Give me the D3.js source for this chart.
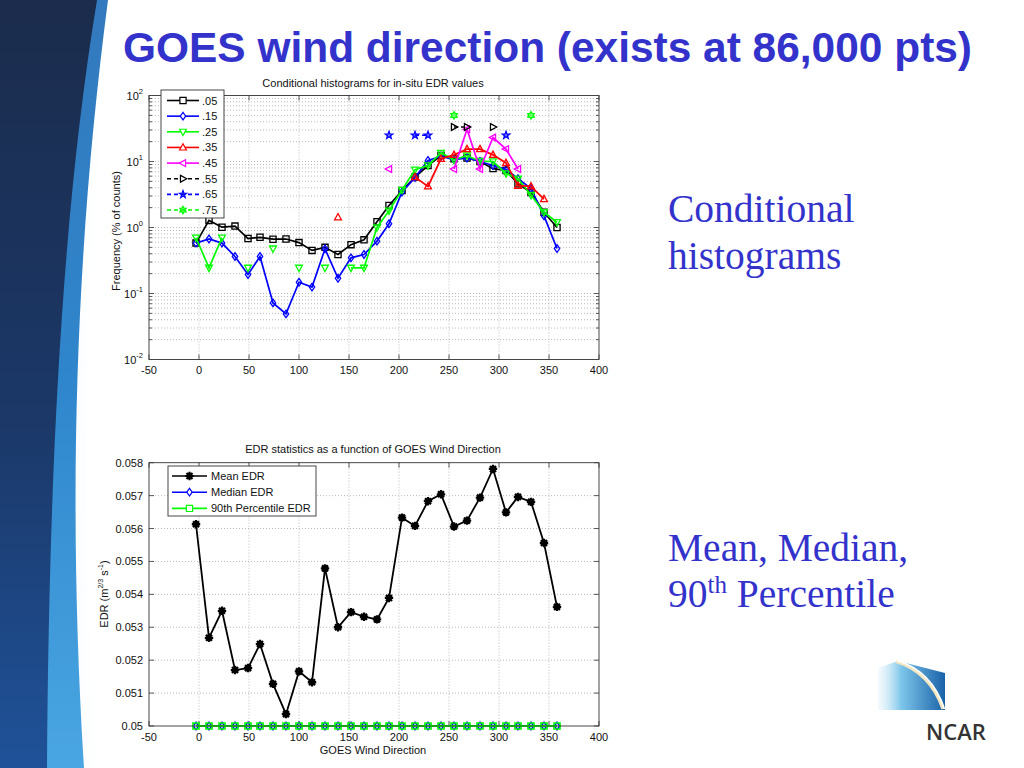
<!DOCTYPE html>
<html><head><meta charset="utf-8">
<script src="https://cdn.jsdelivr.net/npm/d3@7"></script>
<style>body{margin:0;background:#fff}svg{display:block}</style>
</head><body>
<svg id="c" width="1024" height="768"></svg>
<script>
// ---------------- DATA ----------------
const directions = [-3,10,23,36,49,61,74,87,100,113,126,139,152,165,178,190,203,216,229,242,255,268,281,294,307,319,332,345,358];
const edrLevels = [".05",".15",".25",".35",".45",".55",".65",".75"];
const n = null;
const hist05 = [0.58,1.28,1.01,1.05,0.68,0.71,0.665,0.67,0.59,0.45,0.50,0.39,0.55,0.65,1.22,2.15,3.64,5.8,8.7,12.3,11,11.3,10,7.8,7.3,4.6,3.4,1.7,1.0];
const hist15 = [0.58,0.67,0.58,0.364,0.194,0.364,0.072,0.049,0.148,0.125,0.475,0.17,0.347,0.39,0.62,1.14,3.45,5.7,10.4,12,10.7,11.3,10,8.7,7.6,5.5,3.9,1.5,0.48];
const hist25 = [0.70,0.245,0.70,n,0.245,n,0.48,n,0.245,n,0.245,n,0.245,0.245,1.0,1.8,3.7,7.5,8.7,13.5,10.6,12.3,10.1,10,6.6,5.5,3.1,1.7,1.2];
const hist35 = [n,n,n,n,n,n,n,n,n,n,n,1.43,n,n,n,n,n,5.8,4.2,11,12.6,15.4,15.4,12.6,9.5,4.3,4.2,2.7,n];
const hist45 = [n,n,n,n,n,n,n,n,n,n,n,n,n,n,n,7.7,n,n,n,n,7.7,30.8,7.7,23.1,15.4,7.7,n,n,n];
const hist55 = [n,n,n,n,n,n,n,n,n,n,n,n,n,n,n,n,n,n,n,n,33.3,33.3,n,33.3,n,n,n,n,n];
const hist65 = [n,n,n,n,n,n,n,n,n,n,n,n,n,n,n,25,n,25,25,n,n,n,n,n,25,n,n,n,n];
const hist75 = [n,n,n,n,n,n,n,n,n,n,n,n,n,n,n,n,n,n,n,n,50,n,n,n,n,n,50,n,n];

const meanEDR = [0.05613,0.05268,0.0535,0.0517,0.05176,0.05249,0.05128,0.05036,0.05166,0.05133,0.05479,0.0530,0.05346,0.05332,0.05324,0.05389,0.05633,0.05608,0.05683,0.05704,0.05606,0.05624,0.05694,0.05781,0.05649,0.05696,0.05681,0.05556,0.05362];
const medianEDR = [0.05,0.05,0.05,0.05,0.05,0.05,0.05,0.05,0.05,0.05,0.05,0.05,0.05,0.05,0.05,0.05,0.05,0.05,0.05,0.05,0.05,0.05,0.05,0.05,0.05,0.05,0.05,0.05,0.05];
const p90EDR = [0.05,0.05,0.05,0.05,0.05,0.05,0.05,0.05,0.05,0.05,0.05,0.05,0.05,0.05,0.05,0.05,0.05,0.05,0.05,0.05,0.05,0.05,0.05,0.05,0.05,0.05,0.05,0.05,0.05];
const statNames = ["Mean EDR","Median EDR","90th Percentile EDR"];

const xTicks = [-50,0,50,100,150,200,250,300,350,400];
const logTickExps = [2,1,0,-1,-2];
const edrTicks = [0.05,0.051,0.052,0.053,0.054,0.055,0.056,0.057,0.058];
const edrTickLabels = ["0.05","0.051","0.052","0.053","0.054","0.055","0.056","0.057","0.058"];

// ---------------- STYLE ----------------
const histSeries = [
  {name:edrLevels[0], vals:hist05, color:"#000000", dash:null, m:"s"},
  {name:edrLevels[1], vals:hist15, color:"#0000ff", dash:null, m:"d"},
  {name:edrLevels[2], vals:hist25, color:"#00ff00", dash:null, m:"v"},
  {name:edrLevels[3], vals:hist35, color:"#ff0000", dash:null, m:"^"},
  {name:edrLevels[4], vals:hist45, color:"#ff00ff", dash:null, m:"<"},
  {name:edrLevels[5], vals:hist55, color:"#000000", dash:"4,3", m:">"},
  {name:edrLevels[6], vals:hist65, color:"#0000ff", dash:"4,3", m:"p"},
  {name:edrLevels[7], vals:hist75, color:"#00ff00", dash:"4,3", m:"h"}
];
const FONT = "'Liberation Sans', Arial, Helvetica, sans-serif";

function star(np, R, r){
  let p = [];
  for (let k=0;k<np*2;k++){
    const a = -Math.PI/2 + k*Math.PI/np;
    const rr = k%2===0?R:r;
    p.push([rr*Math.cos(a), rr*Math.sin(a)]);
  }
  return "M"+p.map(q=>q[0].toFixed(2)+","+q[1].toFixed(2)).join("L")+"Z";
}
function markerPath(t){
  const s = 3.4;
  switch(t){
    case "s": return `M-3.1,-3.1H3.1V3.1H-3.1Z`;
    case "d": return `M0,-3.8L2.7,0L0,3.8L-2.7,0Z`;
    case "v": return `M${-s},${-s*0.75}L${s},${-s*0.75}L0,${s*1.1}Z`;
    case "^": return `M${-s},${s*0.75}L${s},${s*0.75}L0,${-s*1.1}Z`;
    case "<": return `M${s*0.75},${-s}L${s*0.75},${s}L${-s*1.1},0Z`;
    case ">": return `M${-s*0.75},${-s}L${-s*0.75},${s}L${s*1.1},0Z`;
    case "p": return star(5, 3.9, 1.6);
    case "h": return star(6, 3.7, 2.2);
    case "*": return "M-4.2,0H4.2M0,-4.2V4.2M-3,-3L3,3M-3,3L3,-3";
  }
}

const svg = d3.select("#c");
const defs = svg.append("defs");

// ---------------- BACKGROUND DECOR ----------------
const gn = defs.append("linearGradient").attr("id","navy").attr("x1",0).attr("y1",0).attr("x2",0).attr("y2",1);
gn.append("stop").attr("offset",0).attr("stop-color","#1b2c4c");
gn.append("stop").attr("offset",0.55).attr("stop-color","#1b3868");
gn.append("stop").attr("offset",1).attr("stop-color","#1f5299");
const gs = defs.append("linearGradient").attr("id","stripe").attr("x1",0).attr("y1",0).attr("x2",0).attr("y2",1);
gs.append("stop").attr("offset",0).attr("stop-color","#3379bd");
gs.append("stop").attr("offset",0.5).attr("stop-color","#2f86cc");
gs.append("stop").attr("offset",1).attr("stop-color","#4aa6e2");
const gw = defs.append("linearGradient").attr("id","glow").attr("x1",0).attr("y1",0).attr("x2",1).attr("y2",0);
gw.append("stop").attr("offset",0).attr("stop-color","#cfe6f6");
gw.append("stop").attr("offset",1).attr("stop-color","#ffffff").attr("stop-opacity",0);

svg.append("path").attr("d","M0,0 L116,0 C86,240 76,500 98,768 L0,768 Z").attr("fill","url(#glow)").attr("opacity",0.7);
svg.append("path").attr("d","M0,0 L108,0 C78,230 66,480 84,768 L0,768 Z").attr("fill","url(#stripe)");
svg.append("path").attr("d","M0,0 L97,0 C64,200 49,450 47,768 L0,768 Z").attr("fill","url(#navy)");

// ---------------- TITLES / TEXT ----------------
svg.append("text").attr("x",123).attr("y",62).attr("font-family",FONT).attr("font-weight","bold")
  .attr("font-size",42).attr("fill","#3333cc").attr("textLength",849).attr("lengthAdjust","spacingAndGlyphs")
  .text("GOES wind direction (exists at 86,000 pts)");

const SERIF = "'Liberation Serif','Times New Roman',serif";
svg.append("text").attr("x",668).attr("y",222).attr("font-family",SERIF).attr("font-size",39.5).attr("fill","#3333cc").text("Conditional");
svg.append("text").attr("x",668).attr("y",269).attr("font-family",SERIF).attr("font-size",39.5).attr("fill","#3333cc").text("histograms");
svg.append("text").attr("x",668).attr("y",561).attr("font-family",SERIF).attr("font-size",39.5).attr("fill","#3333cc").text("Mean, Median,");
const pt = svg.append("text").attr("x",668).attr("y",607).attr("font-family",SERIF).attr("font-size",39.5).attr("fill","#3333cc");
pt.append("tspan").text("90");
pt.append("tspan").attr("dy",-14).attr("font-size",25).text("th");
pt.append("tspan").attr("dy",14).text(" Percentile");

// ---------------- NCAR LOGO ----------------
const gl = defs.append("linearGradient").attr("id","logo").attr("x1",0).attr("y1",0).attr("x2",1).attr("y2",0);
gl.append("stop").attr("offset",0).attr("stop-color","#bfe3f5").attr("stop-opacity",0.15);
gl.append("stop").attr("offset",0.35).attr("stop-color","#7cc5ea");
gl.append("stop").attr("offset",1).attr("stop-color","#1a62a8");
svg.append("path").attr("d","M878,668 L898,661 L945,673 L945,710 L878,710 Z").attr("fill","url(#logo)");
svg.append("path").attr("d","M896,661.5 Q930,672 943,709").attr("fill","none").attr("stroke","#f3e6c0").attr("stroke-width",3.2);
svg.append("path").attr("d","M897,660.5 Q932,671 944.5,709").attr("fill","none").attr("stroke","#ffffff").attr("stroke-width",1.6);
svg.append("text").attr("x",926).attr("y",740).attr("font-family","'Open Sans', "+FONT).attr("font-weight","600")
  .attr("font-size",22).attr("fill","#333333").text("NCAR");

// ---------------- COMMON AXES HELPERS ----------------
function frame(g, x0, y0, x1, y1){
  g.append("rect").attr("x",x0).attr("y",y0).attr("width",x1-x0).attr("height",y1-y0)
    .attr("fill","none").attr("stroke","#333").attr("stroke-width",0.9);
}
function gridLine(g, x1,y1,x2,y2){
  g.append("line").attr("x1",x1).attr("y1",y1).attr("x2",x2).attr("y2",y2)
   .attr("stroke","#a8a8a8").attr("stroke-width",0.8).attr("stroke-dasharray","1,2");
}
function tick(g,x1,y1,x2,y2){
  g.append("line").attr("x1",x1).attr("y1",y1).attr("x2",x2).attr("y2",y2).attr("stroke","#333").attr("stroke-width",0.8);
}

// ---------------- TOP CHART ----------------
const X0 = 149, X1 = 599;
const x = d3.scaleLinear().domain([-50,400]).range([X0,X1]);
const yT = d3.scaleLog().domain([0.01,100]).range([359.5,95.5]);
const topG = svg.append("g");
topG.append("rect").attr("x",X0).attr("y",95.5).attr("width",X1-X0).attr("height",264).attr("fill","#fff");

xTicks.slice(1,-1).forEach(t=>gridLine(topG, x(t),95.5,x(t),359.5));
for (let e=-2;e<2;e++){
  for (let m=1;m<10;m++){
    const v = m*Math.pow(10,e);
    if (e===-2 && m===1) continue;
    gridLine(topG, X0, yT(v), X1, yT(v));
    const L = m===1?5:3;
    tick(topG, X0, yT(v), X0+L, yT(v));
    tick(topG, X1, yT(v), X1-L, yT(v));
  }
}
xTicks.forEach(t=>{ tick(topG,x(t),359.5,x(t),354.5); tick(topG,x(t),95.5,x(t),100.5); });

xTicks.forEach(t=>{
  topG.append("text").attr("x",x(t)).attr("y",374).attr("text-anchor","middle")
    .attr("font-family",FONT).attr("font-size",11).attr("fill","#111").text(t);
});
logTickExps.forEach(e=>{
  const tx = topG.append("text").attr("x",143).attr("y",yT(Math.pow(10,e))+4).attr("text-anchor","end")
    .attr("font-family",FONT).attr("font-size",11).attr("fill","#111");
  tx.append("tspan").text("10");
  tx.append("tspan").attr("dy",-6).attr("font-size",7.5).text(e);
});
topG.append("text").attr("x",373).attr("y",87).attr("text-anchor","middle").attr("font-family",FONT)
  .attr("font-size",11).attr("fill","#111").text("Conditional histograms for in-situ EDR values");
topG.append("text").attr("transform","translate(120,231) rotate(-90)").attr("text-anchor","middle")
  .attr("font-family",FONT).attr("font-size",11).attr("fill","#111").text("Frequency (% of counts)");

const topPlot = topG.append("g");
histSeries.forEach(s=>{
  const pts = directions.map((d,i)=>({x:d, v:s.vals[i]}));
  const line = d3.line().defined(p=>p.v!=null).x(p=>x(p.x)).y(p=>yT(p.v));
  topPlot.append("path").attr("d",line(pts)).attr("fill","none").attr("stroke",s.color)
    .attr("stroke-width",1.7).attr("stroke-dasharray",s.dash);
  topPlot.selectAll(null).data(pts.filter(p=>p.v!=null)).enter().append("path")
    .attr("transform",p=>`translate(${x(p.x)},${yT(p.v)})`)
    .attr("d",markerPath(s.m)).attr("fill",(s.m==="p"||s.m==="h")?s.color:"none")
    .attr("fill-opacity",(s.m==="p"||s.m==="h")?0.55:0)
    .attr("stroke",s.color).attr("stroke-width",1.3);
});
frame(topG, X0, 95.5, X1, 359.5);

const lg = topG.append("g");
lg.append("rect").attr("x",161).attr("y",90).attr("width",63).attr("height",128).attr("fill","#fff")
  .attr("stroke","#333").attr("stroke-width",0.9);
histSeries.forEach((s,i)=>{
  const yy = 100.5 + i*15.65;
  lg.append("line").attr("x1",167).attr("x2",199).attr("y1",yy).attr("y2",yy).attr("stroke",s.color)
    .attr("stroke-width",1.6).attr("stroke-dasharray",s.dash);
  lg.append("path").attr("transform",`translate(183,${yy})`).attr("d",markerPath(s.m))
    .attr("fill",(s.m==="p"||s.m==="h")?s.color:"#fff").attr("fill-opacity",(s.m==="p"||s.m==="h")?0.55:1)
    .attr("stroke",s.color).attr("stroke-width",1.2);
  lg.append("text").attr("x",202).attr("y",yy+4).attr("font-family",FONT).attr("font-size",11)
    .attr("fill","#111").text(s.name);
});

// ---------------- BOTTOM CHART ----------------
const BY0 = 462.7, BY1 = 726;
const yB = d3.scaleLinear().domain([0.05,0.058]).range([BY1,BY0]);
const bot = svg.append("g");
bot.append("rect").attr("x",X0).attr("y",BY0).attr("width",X1-X0).attr("height",BY1-BY0).attr("fill","#fff");
xTicks.slice(1,-1).forEach(t=>gridLine(bot, x(t),BY0,x(t),BY1));
edrTicks.slice(1,-1).forEach(t=>gridLine(bot, X0,yB(t),X1,yB(t)));
xTicks.forEach(t=>{ tick(bot,x(t),BY1,x(t),BY1-5); tick(bot,x(t),BY0,x(t),BY0+5); });
edrTicks.forEach(t=>{ tick(bot,X0,yB(t),X0+5,yB(t)); tick(bot,X1,yB(t),X1-5,yB(t)); });

xTicks.forEach(t=>{
  bot.append("text").attr("x",x(t)).attr("y",741).attr("text-anchor","middle")
    .attr("font-family",FONT).attr("font-size",11).attr("fill","#111").text(t);
});
edrTicks.forEach((t,i)=>{
  bot.append("text").attr("x",143).attr("y",yB(t)+4).attr("text-anchor","end")
    .attr("font-family",FONT).attr("font-size",11).attr("fill","#111").text(edrTickLabels[i]);
});
bot.append("text").attr("x",373).attr("y",453).attr("text-anchor","middle").attr("font-family",FONT)
  .attr("font-size",11).attr("fill","#111").text("EDR statistics as a function of GOES Wind Direction");
bot.append("text").attr("x",373).attr("y",754).attr("text-anchor","middle").attr("font-family",FONT)
  .attr("font-size",11).attr("fill","#111").text("GOES Wind Direction");
const yl = bot.append("text").attr("transform","translate(108,594) rotate(-90)").attr("text-anchor","middle")
  .attr("font-family",FONT).attr("font-size",11).attr("fill","#111");
yl.append("tspan").text("EDR (m");
yl.append("tspan").attr("dy",-5).attr("font-size",7).text("2/3");
yl.append("tspan").attr("dy",5).text(" s");
yl.append("tspan").attr("dy",-5).attr("font-size",7).text("-1");
yl.append("tspan").attr("dy",5).text(")");

const statSeries = [
  {name:statNames[0], vals:meanEDR, color:"#000000", m:"*"},
  {name:statNames[1], vals:medianEDR, color:"#0000ff", m:"d"},
  {name:statNames[2], vals:p90EDR, color:"#00ff00", m:"s"}
];
statSeries.forEach(s=>{
  const pts = directions.map((d,i)=>({x:d, v:s.vals[i]}));
  const line = d3.line().x(p=>x(p.x)).y(p=>yB(p.v));
  bot.append("path").attr("d",line(pts)).attr("fill","none").attr("stroke",s.color).attr("stroke-width",1.8);
  bot.selectAll(null).data(pts).enter().append("path")
    .attr("transform",p=>`translate(${x(p.x)},${yB(p.v)})`)
    .attr("d",markerPath(s.m)).attr("fill","none").attr("stroke",s.color)
    .attr("stroke-width",s.m==="*"?2.3:1.5);
});
frame(bot, X0, BY0, X1, BY1);

const lb = bot.append("g");
lb.append("rect").attr("x",168).attr("y",466).attr("width",148).attr("height",50).attr("fill","#fff")
  .attr("stroke","#333").attr("stroke-width",0.9);
statSeries.forEach((s,i)=>{
  const yy = 476 + i*16.2;
  lb.append("line").attr("x1",172).attr("x2",207).attr("y1",yy).attr("y2",yy).attr("stroke",s.color).attr("stroke-width",1.6);
  lb.append("path").attr("transform",`translate(189.5,${yy})`).attr("d",markerPath(s.m))
    .attr("fill","#fff").attr("stroke",s.color).attr("stroke-width",s.m==="*"?2.2:1.2);
  lb.append("text").attr("x",211).attr("y",yy+4).attr("font-family",FONT).attr("font-size",11)
    .attr("fill","#111").text(s.name);
});
</script>
</body></html>
